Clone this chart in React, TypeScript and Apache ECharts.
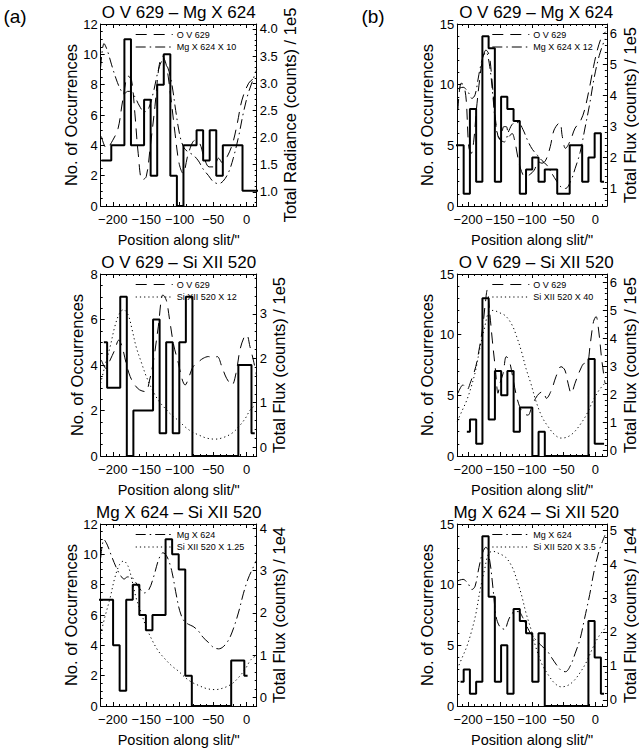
import { useEffect, useRef } from "react";
import * as echarts from "echarts";

// ---------- histograms: slit position (arcsec) of each bin and number of occurrences ----------
const histATopX = [-216.9, -207.1, -197.3, -187.5, -177.7, -167.9, -158.1, -148.3, -138.5, -128.7, -118.9, -109.1, -99.3, -89.5, -79.7, -69.9, -60.1, -50.3, -40.5, -30.7, -20.9, -11.1, -1.3, 8.5, 18.3];
const histATopN = [3, 3, 4, 4, 11, 4, 4, 7, 2, 8, 10, 2, 0, 4, 4, 5, 3, 5, 2, 4, 4, 4, 1, 1, 1];

const histAMidX = [-213.3, -203.5, -193.7, -183.9, -174.1, -164.3, -154.5, -144.7, -134.9, -125.1, -115.3, -105.5, -95.7, -85.9, -76.1, -66.3, -56.5, -46.7, -36.9, -27.1, -17.3, -7.5, 2.3, 12.1];
const histAMidN = [5, 3, 3, 7, 0, 2, 2, 2, 6, 1, 5, 1, 5, 7, 0, 0, 0, 0, 0, 0, 0, 4, 4, 1];

const histABotX = [-224, -214.2, -204.4, -194.6, -184.8, -175, -165.2, -155.4, -145.6, -135.8, -126, -116.2, -106.4, -96.6, -86.8, -77, -67.2, -57.4, -47.6, -37.8, -28, -18.2, -8.4, 1.4];
const histABotN = [7, 7, 7, 4, 1, 7, 8, 6, 5, 6, 6, 11, 10, 9, 2, 0, 0, 0, 0, 0, 0, 3, 3, 2];

const histBTopX = [-221.7, -211.9, -202.1, -192.3, -182.5, -172.7, -162.9, -153.1, -143.3, -133.5, -123.7, -113.9, -104.1, -94.3, -84.5, -74.7, -64.9, -55.1, -45.3, -35.5, -25.7, -15.9, -6.1, 3.7, 13.5];
const histBTopN = [5, 5, 1, 8, 2, 14, 13, 2, 9, 8, 7, 1, 3, 4, 2, 3, 3, 1, 1, 5, 5, 2, 4, 6, 2];

const histBMidX = [-202, -192.2, -182.4, -172.6, -162.8, -153, -143.2, -133.4, -123.6, -113.8, -104, -94.2, -84.4, -74.6, -64.8, -55, -45.2, -35.4, -25.6, -15.8, -6, 3.8, 13.6];
const histBMidN = [2, 3, 1, 13, 3, 7, 5, 7, 2, 4, 4, 0, 2, 0, 0, 0, 0, 0, 0, 0, 8, 1, 1];

const histBBotX = [-211.9, -202.1, -192.3, -182.5, -172.7, -162.9, -153.1, -143.3, -133.5, -123.7, -113.9, -104.1, -94.3, -84.5, -74.7, -64.9, -55.1, -45.3, -35.5, -25.7, -15.9, -6.1, 3.7, 13.5];
const histBBotN = [2, 3, 1, 2, 14, 9, 2, 5, 1, 8, 7, 6, 2, 6, 0, 0, 0, 0, 0, 0, 0, 7, 4, 1];

// ---------- O V 629 total counts along the slit (units of 1e5) ----------
const ovATopX = [-217, -209, -200, -192, -185, -177, -172, -167, -162, -156, -150, -144, -137, -131, -126, -120, -114, -107, -101, -95, -87, -77, -70, -64, -56, -49, -42, -36, -29, -21, -14, -7, 3, 11, 15];
const ovATopY = [2.02, 1.8, 1.95, 2.17, 2.69, 3.13, 3.06, 2.45, 1.71, 1.22, 1.28, 1.83, 2.57, 3.3, 3.5, 3.33, 2.81, 2.08, 1.53, 1.34, 1.71, 1.95, 1.89, 1.65, 1.46, 1.46, 1.62, 1.53, 1.65, 1.89, 2.26, 2.69, 3.0, 3.09, 3.12];

const ovAMidX = [-217, -210, -204, -197, -191, -186, -180, -174, -167, -160, -151, -145, -139, -132, -125, -120, -115, -109, -102, -96, -92, -86, -80, -72, -65, -57, -50, -44, -37, -30, -22, -16, -10, -4, 0, 5, 10, 15];
const ovAMidY = [1.96, 1.77, 1.96, 2.19, 2.41, 2.26, 1.89, 1.59, 1.4, 1.29, 1.25, 1.51, 1.96, 2.71, 3.43, 3.31, 2.86, 2.3, 1.89, 1.51, 1.4, 1.59, 1.81, 1.92, 2.0, 2.04, 2.0, 2.04, 1.81, 1.55, 1.4, 1.66, 2.19, 2.47, 2.53, 2.26, 1.96, 1.6];

const ovBTopX = [-216, -211, -207, -203, -199, -195, -191, -187, -182, -177, -172, -167, -163, -158, -153, -149, -144, -140, -136, -131, -126, -121, -116, -111, -104, -96, -90, -84, -78, -71, -65, -56, -52, -47, -39, -32, -24, -17, -9, -3, 3, 10, 16];
const ovBTopY = [3.53, 4.39, 4.33, 3.85, 2.34, 2.13, 2.56, 3.53, 4.49, 5.19, 5.46, 5.3, 4.6, 3.42, 2.67, 2.56, 2.99, 2.99, 2.67, 2.77, 2.45, 1.91, 1.54, 1.38, 1.43, 1.59, 1.86, 1.81, 1.91, 2.34, 2.88, 3.12, 2.67, 2.29, 2.56, 2.94, 3.15, 3.53, 4.28, 4.92, 5.46, 5.89, 6.05];

const ovBMidX = [-216, -208, -202, -196, -188, -182, -177, -173, -170, -166, -162, -157, -153, -150, -145, -140, -135, -130, -125, -119, -113, -106, -100, -94, -88, -82, -77, -69, -62, -54, -48, -43, -38, -32, -24, -17, -13, -8, -3, 1, 5, 10, 15];
const ovBMidY = [2.04, 2.34, 2.16, 2.45, 2.99, 3.7, 4.42, 5.25, 5.73, 4.9, 3.94, 2.87, 2.04, 2.4, 2.75, 3.35, 3.17, 2.63, 2.04, 1.56, 1.32, 1.26, 1.56, 1.86, 2.04, 2.1, 1.86, 2.16, 2.63, 2.99, 2.87, 2.4, 2.04, 2.4, 2.87, 3.11, 3.11, 3.82, 4.6, 4.78, 4.3, 3.23, 2.4];

// ---------- Mg X 624 and Si XII 520 total counts along the slit (units of 1e4) ----------
const mgAX = [-218, -213, -208, -202, -195, -189, -183, -178, -173, -167, -160, -153, -146, -139, -131, -125, -119, -112, -106, -100, -94, -87, -80, -72, -65, -57, -50, -42, -35, -27, -20, -12, -5, 2, 9, 15];
const mgAY = [3.3, 3.73, 3.6, 3.35, 3.08, 2.9, 2.8, 2.85, 2.85, 2.75, 2.58, 2.47, 2.55, 2.85, 3.28, 3.42, 3.33, 3.0, 2.5, 2.05, 1.82, 1.73, 1.68, 1.57, 1.42, 1.3, 1.19, 1.15, 1.2, 1.36, 1.62, 2.02, 2.45, 2.8, 3.05, 3.25];

const siAX = [-218, -212, -204, -197, -190, -184, -177, -171, -165, -157, -150, -141, -132, -122, -112, -102, -92, -82, -72, -60, -47, -35, -22, -12, -2, 6, 15];
const siAY = [1.2, 1.51, 1.88, 2.26, 2.51, 2.58, 2.48, 2.2, 1.88, 1.58, 1.33, 1.08, 0.88, 0.73, 0.6, 0.5, 0.38, 0.29, 0.23, 0.17, 0.15, 0.18, 0.26, 0.38, 0.54, 0.71, 0.8];

const mgBX = [-217, -208, -200, -194, -189, -183, -177, -172, -166, -161, -156, -150, -143, -136, -129, -121, -114, -106, -99, -91, -84, -76, -69, -61, -54, -47, -39, -32, -24, -17, -9, -2, 6, 15];
const mgBY = [3.5, 3.55, 3.42, 3.25, 3.35, 3.9, 4.35, 4.5, 4.1, 3.3, 2.45, 2.15, 2.08, 2.38, 2.58, 2.6, 2.42, 2.1, 1.88, 1.72, 1.58, 1.45, 1.25, 1.03, 0.87, 0.83, 1.02, 1.36, 1.8, 2.4, 3.1, 3.8, 4.4, 4.85];

const siBX = [-217, -209, -202, -195, -188, -181, -174, -168, -161, -151, -141, -131, -124, -116, -109, -101, -94, -84, -74, -64, -54, -44, -34, -24, -14, -4, 6, 15];
const siBY = [0.26, 0.36, 0.45, 0.57, 0.72, 0.93, 1.1, 1.23, 1.25, 1.23, 1.2, 1.12, 1.02, 0.88, 0.73, 0.59, 0.45, 0.3, 0.21, 0.14, 0.11, 0.12, 0.16, 0.23, 0.32, 0.44, 0.54, 0.6];

// ---------- tick labels ----------
const xTickLabels = [-200, -150, -100, -50, 0];
const countTicks12 = [0, 2, 4, 6, 8, 10, 12];
const countTicks8 = [0, 2, 4, 6, 8];
const countTicks15 = [0, 5, 10, 15];
const radianceTicksATop = [1.0, 1.5, 2.0, 2.5, 3.0, 3.5, 4.0];
const fluxTicksAMid = [0, 1, 2, 3];
const fluxTicksABot = [0, 1, 2, 3, 4];
const fluxTicksBTop = [1, 2, 3, 4, 5, 6];
const fluxTicksBMid = [0, 1, 2, 3, 4, 5, 6];
const fluxTicksBBot = [0, 1, 2, 3, 4, 5];

const FONT = "'Liberation Sans', Arial, sans-serif";
const NARROW = "'Liberation Sans Narrow', 'Liberation Sans', Arial, sans-serif";
const DASH = [11, 7];
const DASHDOT = [10, 4, 1.5, 4];
const DOT = [1.2, 3];

const COLS = [
  { left: 100.7, width: 156, xMin: -218, xMax: 15, letter: "(a)", letterX: 15 },
  { left: 457.3, width: 157.7, xMin: -217, xMax: 18, letter: "(b)", letterX: 373 },
];
const ROWS = [24, 274, 524];
const BOX_H = 182;

type Curve = { x: number[]; y: number[]; scale: number; dash: number[]; label: string };
type Panel = {
  col: number; row: number; title: string;
  hx: number[]; hn: number[];
  lMax: number; lTicks: number[]; lMinor: number; lGap: number;
  rMin: number; rMax: number; rTicks: number[]; rMinor: number; rDec: number; rName: string; rGap: number;
  curves: Curve[];
};

const panels: Panel[] = [
  {
    col: 0, row: 0, title: "O V 629 \u2013 Mg X 624", hx: histATopX, hn: histATopN,
    lMax: 12, lTicks: countTicks12, lMinor: 0.5, lGap: 19,
    rMin: 0.74, rMax: 4.09, rTicks: radianceTicksATop, rMinor: 0.1, rDec: 1, rName: "Total Radiance (counts) / 1e5", rGap: 21,
    curves: [
      { x: ovATopX, y: ovATopY, scale: 1, dash: DASH, label: "O V 629" },
      { x: mgAX, y: mgAY, scale: (10 * 1e4) / 1e5, dash: DASHDOT, label: "Mg X 624 X 10" },
    ],
  },
  {
    col: 1, row: 0, title: "O V 629 \u2013 Mg X 624", hx: histBTopX, hn: histBTopN,
    lMax: 15, lTicks: countTicks15, lMinor: 1, lGap: 20,
    rMin: 0.43, rMax: 6.3, rTicks: fluxTicksBTop, rMinor: 0.2, rDec: 0, rName: "Total Flux (counts) / 1e5", rGap: 11,
    curves: [
      { x: ovBTopX, y: ovBTopY, scale: 1, dash: DASH, label: "O V 629" },
      { x: mgBX, y: mgBY, scale: (12 * 1e4) / 1e5, dash: DASHDOT, label: "Mg X 624 X 12" },
    ],
  },
  {
    col: 0, row: 1, title: "O V 629 \u2013 Si XII 520", hx: histAMidX, hn: histAMidN,
    lMax: 8, lTicks: countTicks8, lMinor: 0.5, lGap: 15,
    rMin: -0.2, rMax: 3.9, rTicks: fluxTicksAMid, rMinor: 0.2, rDec: 0, rName: "Total Flux (counts) / 1e5", rGap: 14,
    curves: [
      { x: ovAMidX, y: ovAMidY, scale: 1, dash: DASH, label: "O V 629" },
      { x: siAX, y: siAY, scale: (12 * 1e4) / 1e5, dash: DOT, label: "Si XII 520 X 12" },
    ],
  },
  {
    col: 1, row: 1, title: "O V 629 \u2013 Si XII 520", hx: histBMidX, hn: histBMidN,
    lMax: 15, lTicks: countTicks15, lMinor: 1, lGap: 20,
    rMin: -0.2, rMax: 6.3, rTicks: fluxTicksBMid, rMinor: 0.2, rDec: 0, rName: "Total Flux (counts) / 1e5", rGap: 11,
    curves: [
      { x: ovBMidX, y: ovBMidY, scale: 1, dash: DASH, label: "O V 629" },
      { x: siBX, y: siBY, scale: (40 * 1e4) / 1e5, dash: DOT, label: "Si XII 520 X 40" },
    ],
  },
  {
    col: 0, row: 2, title: "Mg X 624 \u2013 Si XII 520", hx: histABotX, hn: histABotN,
    lMax: 12, lTicks: countTicks12, lMinor: 0.5, lGap: 20,
    rMin: -0.2, rMax: 4.1, rTicks: fluxTicksABot, rMinor: 0.2, rDec: 0, rName: "Total Flux (counts) / 1e4", rGap: 14,
    curves: [
      { x: mgAX, y: mgAY, scale: 1, dash: DASHDOT, label: "Mg X 624" },
      { x: siAX, y: siAY, scale: 1.25, dash: DOT, label: "Si XII 520 X 1.25" },
    ],
  },
  {
    col: 1, row: 2, title: "Mg X 624 \u2013 Si XII 520", hx: histBBotX, hn: histBBotN,
    lMax: 15, lTicks: countTicks15, lMinor: 1, lGap: 20,
    rMin: -0.18, rMax: 5.18, rTicks: fluxTicksBBot, rMinor: 0.2, rDec: 0, rName: "Total Flux (counts) / 1e4", rGap: 11,
    curves: [
      { x: mgBX, y: mgBY, scale: 1, dash: DASHDOT, label: "Mg X 624" },
      { x: siBX, y: siBY, scale: 3.5, dash: DOT, label: "Si XII 520 X 3.5" },
    ],
  },
];

// evenly spaced tick positions inside [from, to]
function tickRange(from: number, to: number, step: number): number[] {
  const out: number[] = [];
  const start = Math.ceil(from / step - 1e-9) * step;
  for (let v = start; v <= to + 1e-9; v += step) out.push(+v.toFixed(4));
  return out;
}

const fmtSigned = (v: number) => (v < 0 ? "\u2212" + Math.abs(v) : String(v));

function buildOption() {
  const grid: any[] = [];
  const xAxis: any[] = [];
  const yAxis: any[] = [];
  const series: any[] = [];
  const graphic: any[] = [];

  const axisLine = { show: true, onZero: false, lineStyle: { color: "#000", width: 1 } };
  const noLine = { show: false, onZero: false };
  const tick = (values: number[], length: number) => ({
    show: true, inside: true, length, customValues: values, lineStyle: { color: "#000", width: 1 },
  });
  const xNameStyle = { color: "#000", fontFamily: FONT, fontSize: 14.5 };
  const yNameStyle = { color: "#000", fontFamily: FONT, fontSize: 16.5 };

  COLS.forEach((c) => {
    graphic.push({
      type: "text", x: c.letterX, y: 16,
      style: { text: c.letter, fill: "#000", font: `19px ${FONT}`, align: "center", verticalAlign: "middle" },
    });
  });

  panels.forEach((p, i) => {
    const c = COLS[p.col];
    const top = ROWS[p.row];
    grid.push({ left: c.left, top, width: c.width, height: BOX_H });

    const base = { type: "value", gridIndex: i, splitLine: { show: false } };
    const xMinor = tickRange(c.xMin, c.xMax, 10);

    // x axes: bottom (labelled), bottom minor ticks, top, top minor ticks
    xAxis.push({
      ...base, position: "bottom", min: c.xMin, max: c.xMax, axisLine,
      axisTick: tick(xTickLabels, 4),
      axisLabel: { customValues: xTickLabels, formatter: fmtSigned, color: "#000", fontFamily: NARROW, fontSize: 13, margin: 7 },
      name: 'Position along slit/"', nameLocation: "middle", nameGap: 26, nameTextStyle: xNameStyle,
    });
    xAxis.push({ ...base, position: "bottom", min: c.xMin, max: c.xMax, axisLine: noLine, axisTick: tick(xMinor, 2), axisLabel: { show: false } });
    xAxis.push({ ...base, position: "top", min: c.xMin, max: c.xMax, axisLine, axisTick: tick(xTickLabels, 4), axisLabel: { show: false } });
    xAxis.push({ ...base, position: "top", min: c.xMin, max: c.xMax, axisLine: noLine, axisTick: tick(xMinor, 2), axisLabel: { show: false } });

    // y axes: left counts, left minor, right flux, right minor
    yAxis.push({
      ...base, position: "left", min: 0, max: p.lMax, axisLine,
      axisTick: tick(p.lTicks, 4),
      axisLabel: { customValues: p.lTicks, color: "#000", fontFamily: NARROW, fontSize: 13, margin: 3 },
      name: "No. of Occurrences", nameLocation: "middle", nameRotate: 90, nameGap: p.lGap, nameTextStyle: yNameStyle,
    });
    yAxis.push({ ...base, position: "left", min: 0, max: p.lMax, axisLine: noLine, axisTick: tick(tickRange(0, p.lMax, p.lMinor), 2), axisLabel: { show: false } });
    yAxis.push({
      ...base, position: "right", min: p.rMin, max: p.rMax, axisLine,
      axisTick: tick(p.rTicks, 4),
      axisLabel: { customValues: p.rTicks, formatter: (v: number) => v.toFixed(p.rDec), color: "#000", fontFamily: NARROW, fontSize: 13, margin: 3 },
      name: p.rName, nameLocation: "middle", nameRotate: 90, nameGap: p.rGap, nameTextStyle: yNameStyle,
    });
    yAxis.push({ ...base, position: "right", min: p.rMin, max: p.rMax, axisLine: noLine, axisTick: tick(tickRange(p.rMin, p.rMax, p.rMinor), 2), axisLabel: { show: false } });

    const xi = i * 4;
    const yi = i * 4;

    // profiles against the right-hand axis
    p.curves.forEach((cv) => {
      series.push({
        type: "line", xAxisIndex: xi, yAxisIndex: yi + 2,
        data: cv.x.map((xv, j) => [xv, +(cv.y[j] * cv.scale).toFixed(4)]),
        symbol: "none", smooth: 0.35, clip: true, silent: true,
        lineStyle: { color: "#000", width: 1, type: cv.dash },
      });
    });

    // occurrence histogram against the left-hand axis
    series.push({
      type: "line", xAxisIndex: xi, yAxisIndex: yi,
      data: p.hx.map((xv, j) => [xv, p.hn[j]]),
      step: "middle", symbol: "none", clip: true, silent: true, z: 3,
      lineStyle: { color: "#000", width: 2 },
    });

    // panel title
    graphic.push({
      type: "text", x: c.left + c.width / 2, y: top - 12,
      style: { text: p.title, fill: "#000", font: `17px ${FONT}`, align: "center", verticalAlign: "middle" },
    });

    // legend
    p.curves.forEach((cv, k) => {
      const ly = top + 10.5 + k * 12.5;
      graphic.push({
        type: "line", shape: { x1: c.left + 35, y1: ly, x2: c.left + 72, y2: ly },
        style: { stroke: "#000", lineWidth: 1, lineDash: cv.dash },
      });
      graphic.push({
        type: "text", x: c.left + 76, y: ly,
        style: { text: cv.label, fill: "#000", font: `9px ${FONT}`, align: "left", verticalAlign: "middle" },
      });
    });
  });

  return { animation: false, backgroundColor: "#fff", grid, xAxis, yAxis, series, graphic };
}

export default function App() {
  const ref = useRef<HTMLDivElement>(null);
  useEffect(() => {
    if (!ref.current) return;
    const chart = echarts.init(ref.current, null, { renderer: "svg" });
    chart.setOption(buildOption());
    return () => chart.dispose();
  }, []);
  return <div ref={ref} style={{ position: "absolute", left: 0, top: 0, width: 639, height: 753 }} />;
}
